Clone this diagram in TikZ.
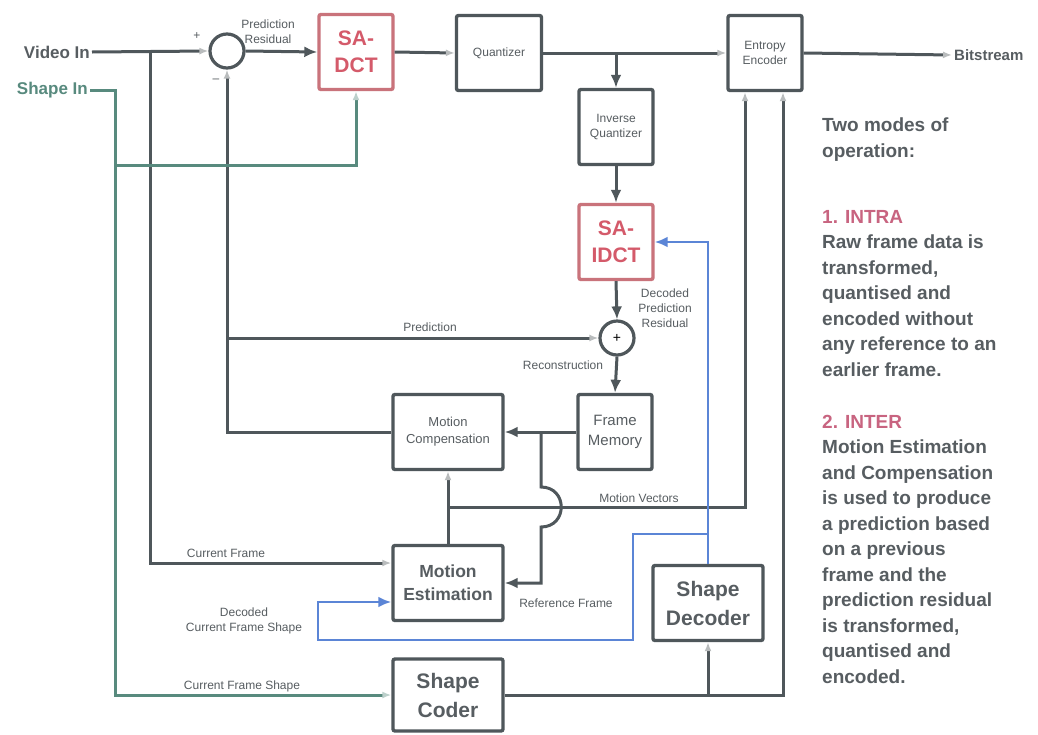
\documentclass[tikz,border=0pt]{standalone}
\usepackage{fontspec}
\setmainfont{Liberation Sans}
\setsansfont{Liberation Sans}
\usepackage{xcolor}
\usepackage{tikz}
\usetikzlibrary{arrows.meta, positioning, calc}

\definecolor{wireGray}{HTML}{4F575B}
\definecolor{labelGray}{HTML}{575D61}
\definecolor{shapeTeal}{HTML}{588A7E}
\definecolor{decodeBlue}{HTML}{5B85D6}
\definecolor{dctRed}{HTML}{C9737B}
\definecolor{dctText}{HTML}{D45A6A}
\definecolor{modePink}{HTML}{C86480}

\tikzset{
  codecbox/.style={
    draw=wireGray, line width=3.4pt, rounded corners=2pt, align=center,
    fill=white, text=labelGray, inner sep=2pt
  },
  smallbox/.style={
    codecbox, minimum width=74pt, minimum height=75pt,
    font=\fontsize{12}{15}\selectfont
  },
  dctbox/.style={
    codecbox, draw=dctRed, text=dctText,
    minimum width=74pt, minimum height=75pt,
    font=\fontsize{21}{27}\selectfont\bfseries
  },
  wideblock/.style={
    codecbox, minimum width=110pt, minimum height=75pt
  },
  sumcircle/.style={
    circle, draw=wireGray, line width=3.2pt, minimum size=34pt,
    inner sep=0pt, fill=white, font=\fontsize{14}{14}\selectfont
  },
  wire/.style={draw=wireGray, line width=3pt},
  flowarrow/.style={wire, -{Latex[length=13pt,width=11pt]}},
  fadedarrow/.style={wire, -{Latex[length=9pt,width=7pt,color=wireGray!40]}},
  shapearrow/.style={draw=shapeTeal, line width=3pt,
    -{Latex[length=9pt,width=7pt,color=shapeTeal!40]}},
  decodearrow/.style={draw=decodeBlue, line width=2.6pt,
    -{Latex[length=13pt,width=11pt]}},
  flowlabel/.style={
    font=\fontsize{12}{15}\selectfont, text=labelGray,
    align=center, inner sep=1pt
  },
  sidetext/.style={
    font=\fontsize{19}{25.5}\selectfont\bfseries, text=labelGray,
    align=left, anchor=north west, inner sep=0pt
  },
  inputlabel/.style={
    font=\fontsize{17}{20}\selectfont\bfseries, text=labelGray,
    anchor=east, inner sep=2pt
  },
}

\begin{document}
\begin{tikzpicture}[x=1pt, y=-1pt]
  \useasboundingbox[fill=white] (0,0) rectangle (1038,734);

  % Forward path
  \node[sumcircle] (diff) at (227,51) {};
  \node[dctbox] (sadct) at (356,52) {SA-\\DCT};
  \node[smallbox, minimum width=85pt] (quant) at (499,53) {Quantizer};
  \node[smallbox] (entropy) at (765,53) {Entropy\\Encoder};
  \node[inputlabel, font=\fontsize{15}{18}\selectfont\bfseries, anchor=west]
    (bitstream) at (952,55) {Bitstream};

  % Inverse path
  \node[smallbox] (iquant) at (616,127) {Inverse\\Quantizer};
  \node[dctbox] (saidct) at (616,242) {SA-\\IDCT};
  \node[sumcircle] (adder) at (617,338) {+};
  \node[smallbox, font=\fontsize{15}{20}\selectfont] (fmem) at (615,432)
    {Frame\\Memory};

  % Motion and shape blocks
  \node[wideblock, font=\fontsize{13}{17}\selectfont] (mcomp) at (448,432)
    {Motion\\Compensation};
  \node[wideblock, font=\fontsize{17.5}{23}\selectfont\bfseries] (mest)
    at (448,583) {Motion\\Estimation};
  \node[wideblock, minimum height=72pt,
    font=\fontsize{21}{29}\selectfont\bfseries] (shcoder) at (448,695)
    {Shape\\Coder};
  \node[wideblock, font=\fontsize{21}{29}\selectfont\bfseries] (shdecoder)
    at (708,603) {Shape\\Decoder};

  % Inputs
  \node[inputlabel] (videoin) at (92,52) {Video In};
  \node[inputlabel, text=shapeTeal] (shapein) at (90,90) {Shape In};

  % Junctions
  \coordinate (vtap) at (150,52);
  \coordinate (shtap) at (115,165);
  \coordinate (predtap) at (227,338);
  \coordinate (refsplit) at (541,432);
  \coordinate (mvtap) at (448,507);
  \coordinate (bluetap) at (708,534);

  % Connectors
  \draw[fadedarrow] (videoin.east) -- (diff.west);
  \draw[flowarrow] (diff.east) -- (sadct.west);
  \draw[fadedarrow] (sadct.east) -- (quant.west);
  \draw[fadedarrow] (quant.east) -- (entropy.west);
  \draw[fadedarrow] (entropy.east) -- (bitstream.west);
  \draw[flowarrow] (iquant.north |- quant.east) -- (iquant.north);
  \draw[flowarrow] (iquant.south) -- (saidct.north);
  \draw[flowarrow] (saidct.south) -- (adder.north);
  \draw[flowarrow] (adder.south) -- (fmem.north);
  \draw[fadedarrow] (vtap) |- ([yshift=20pt]mest.west);
  \draw[fadedarrow] (mcomp.west) -| (diff.south);
  \draw[fadedarrow] (predtap) -- (adder.west);
  \draw[flowarrow] (fmem.west) -- (mcomp.east);
  \draw[flowarrow] (refsplit) -- (541,487)
    .. controls (568,487) and (568,527) .. (541,527) |- (mest.east);
  \draw[fadedarrow] (mest.north) -- (mcomp.south);
  \draw[fadedarrow] (mvtap) -| ([xshift=-20pt]entropy.south);
  \draw[fadedarrow] (shcoder.east) -| ([xshift=18pt]entropy.south);
  \draw[fadedarrow] (shdecoder.south |- shcoder.east) -- (shdecoder.south);

  % Shape paths
  \draw[shapearrow] (shapein.east) -- (115,90) |- (shcoder.west);
  \draw[shapearrow] (shtap) -| (sadct.south);
  \draw[decodearrow] (shdecoder.north) |- (saidct.east);
  \draw[decodearrow] (bluetap) -| (633,640) -| (318,602)
    -- ([yshift=-19pt]mest.west);

  % Labels
  \node[flowlabel] at (197,36) {+};
  \node[flowlabel] at (216,81) {--};
  \node[flowlabel] at (268,32) {Prediction\\Residual};
  \node[flowlabel] at (430,327) {Prediction};
  \node[flowlabel] at (665,308) {Decoded\\Prediction\\Residual};
  \node[flowlabel] at (563,365) {Reconstruction};
  \node[flowlabel] at (639,498) {Motion Vectors};
  \node[flowlabel] at (566,603) {Reference Frame};
  \node[flowlabel] at (226,553) {Current Frame};
  \node[flowlabel] at (244,621) {Decoded\\Current Frame Shape};
  \node[flowlabel] at (242,686) {Current Frame Shape};

  % Side notes
  \node[sidetext] (twomodes) at (822,118) {Two modes of\\operation:};
  \node[sidetext] (intra) at (822,210)
    {\textcolor{modePink}{1. INTRA}\\Raw frame data is\\transformed,\\
     quantised and\\encoded without\\any reference to an\\earlier frame.};
  \node[sidetext] (inter) at (822,415)
    {\textcolor{modePink}{2. INTER}\\Motion Estimation\\and Compensation\\
     is used to produce\\a prediction based\\on a previous\\frame and the\\
     prediction residual\\is transformed,\\quantised and\\encoded.};
\end{tikzpicture}
\end{document}
